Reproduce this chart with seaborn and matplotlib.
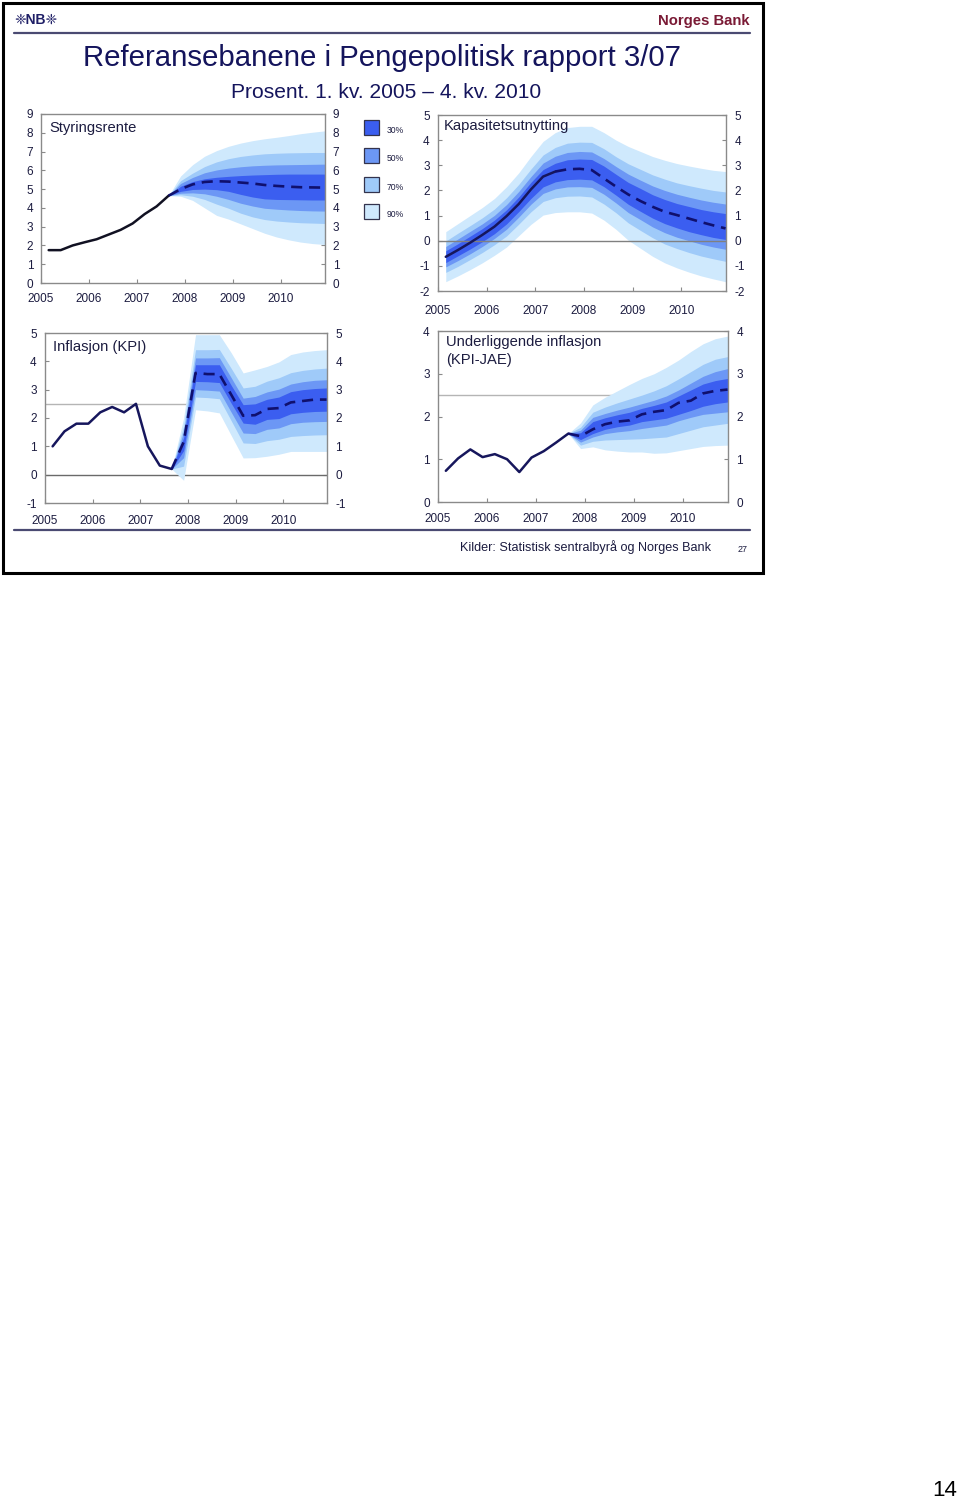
import numpy as np
import pandas as pd
import matplotlib
matplotlib.use("Agg")
import matplotlib.pyplot as plt
import seaborn as sns
from matplotlib.patches import Rectangle

sns.set_theme(style="white")
plt.rcParams['font.family'] = ['Liberation Sans', 'DejaVu Sans']
plt.rcParams['axes.unicode_minus'] = False

# ---------------- data ----------------
quarters = [str(p) for p in pd.period_range("2005Q1", "2010Q4", freq="Q")]
year_ticks = [2005, 2006, 2007, 2008, 2009, 2010]

# Styringsrente (policy rate)
rate_hist = [1.75, 1.75, 2.0, 2.17, 2.33, 2.58, 2.83, 3.17, 3.67, 4.08, 4.65]          # 2005Q1-2007Q3
rate_fc   = [4.65, 5.0, 5.25, 5.38, 5.42, 5.4, 5.35, 5.3, 5.22, 5.17, 5.13, 5.1, 5.09, 5.08]  # 2007Q3-2010Q4
rate_hi90 = [4.65, 5.7, 6.3, 6.75, 7.05, 7.28, 7.45, 7.58, 7.68, 7.76, 7.85, 7.95, 8.03, 8.1]
rate_hi70 = [4.65, 5.45, 5.85, 6.2, 6.45, 6.62, 6.74, 6.82, 6.88, 6.91, 6.93, 6.94, 6.95, 6.95]
rate_hi50 = [4.65, 5.3, 5.62, 5.87, 6.02, 6.12, 6.19, 6.24, 6.27, 6.29, 6.3, 6.31, 6.32, 6.33]
rate_hi30 = [4.65, 5.15, 5.4, 5.55, 5.63, 5.68, 5.72, 5.75, 5.77, 5.79, 5.8, 5.8, 5.8, 5.8]
rate_lo30 = [4.65, 4.88, 4.98, 5.0, 4.97, 4.88, 4.72, 4.58, 4.48, 4.45, 4.44, 4.43, 4.42, 4.42]
rate_lo50 = [4.65, 4.78, 4.8, 4.75, 4.62, 4.45, 4.25, 4.1, 3.98, 3.93, 3.89, 3.86, 3.84, 3.83]
rate_lo70 = [4.65, 4.7, 4.62, 4.45, 4.2, 3.98, 3.72, 3.52, 3.38, 3.3, 3.25, 3.21, 3.19, 3.17]
rate_lo90 = [4.65, 4.62, 4.4, 4.0, 3.6, 3.4, 3.15, 2.9, 2.65, 2.45, 2.3, 2.18, 2.1, 2.05]

# Kapasitetsutnytting (output gap), bands over all quarters
gap_mid  = [-0.64, -0.37, -0.08, 0.23, 0.56, 0.98, 1.46, 2.04, 2.55, 2.75, 2.84, 2.86,
            2.81, 2.48, 2.15, 1.84, 1.58, 1.35, 1.15, 1.02, 0.88, 0.74, 0.61, 0.49]
gap_hi90 = [0.36, 0.68, 1.00, 1.32, 1.68, 2.15, 2.70, 3.35, 3.95, 4.30, 4.50, 4.55,
            4.55, 4.30, 4.00, 3.75, 3.55, 3.35, 3.20, 3.07, 2.97, 2.88, 2.80, 2.75]
gap_lo90 = [-1.63, -1.40, -1.15, -0.88, -0.58, -0.25, 0.20, 0.65, 1.02, 1.12, 1.15, 1.15,
            1.10, 0.82, 0.45, 0.02, -0.30, -0.62, -0.88, -1.08, -1.25, -1.40, -1.52, -1.63]
gap_hi70 = [-0.01, 0.30, 0.60, 0.91, 1.26, 1.71, 2.24, 2.85, 3.41, 3.71, 3.88, 3.92,
            3.91, 3.66, 3.34, 3.06, 2.84, 2.62, 2.45, 2.30, 2.19, 2.09, 2.00, 1.94]
gap_lo70 = [-1.26, -1.02, -0.75, -0.47, -0.16, 0.19, 0.66, 1.15, 1.56, 1.71, 1.77, 1.78,
            1.74, 1.46, 1.11, 0.71, 0.41, 0.12, -0.13, -0.31, -0.47, -0.61, -0.72, -0.82]
gap_hi50 = [-0.23, 0.07, 0.37, 0.67, 1.01, 1.44, 1.96, 2.55, 3.09, 3.36, 3.51, 3.55,
            3.53, 3.27, 2.95, 2.65, 2.41, 2.18, 2.00, 1.85, 1.73, 1.62, 1.53, 1.46]
gap_lo50 = [-1.04, -0.79, -0.52, -0.23, 0.09, 0.46, 0.94, 1.45, 1.88, 2.06, 2.14, 2.15,
            2.12, 1.85, 1.50, 1.12, 0.84, 0.55, 0.32, 0.14, 0.00, -0.14, -0.25, -0.34]
gap_hi30 = [-0.40, -0.12, 0.18, 0.48, 0.82, 1.23, 1.74, 2.32, 2.83, 3.08, 3.22, 3.25,
            3.23, 2.97, 2.64, 2.32, 2.08, 1.83, 1.64, 1.48, 1.36, 1.24, 1.15, 1.08]
gap_lo30 = [-0.87, -0.60, -0.33, -0.04, 0.28, 0.67, 1.16, 1.68, 2.14, 2.34, 2.43, 2.45,
            2.42, 2.15, 1.81, 1.45, 1.17, 0.90, 0.68, 0.51, 0.36, 0.24, 0.13, 0.05]
gap_hist_n = 10   # solid through 2007Q2

# Inflasjon (KPI)
kpi_hist = [1.0, 1.53, 1.8, 1.8, 2.2, 2.39, 2.2, 2.5, 1.0, 0.32, 0.2]
kpi_fc   = [0.2, 1.15, 3.59, 3.55, 3.55, 2.82, 2.08, 2.1, 2.32, 2.35, 2.55, 2.6, 2.65, 2.65]
kpi_hi90 = [0.2, 2.0, 4.94, 4.94, 4.94, 4.3, 3.59, 3.7, 3.82, 3.98, 4.24, 4.33, 4.38, 4.41]
kpi_hi70 = [0.2, 1.7, 4.41, 4.41, 4.42, 3.75, 3.06, 3.12, 3.3, 3.42, 3.6, 3.68, 3.73, 3.76]
kpi_hi50 = [0.2, 1.5, 4.12, 4.12, 4.13, 3.42, 2.7, 2.76, 2.92, 3.02, 3.2, 3.28, 3.33, 3.35]
kpi_hi30 = [0.2, 1.3, 3.88, 3.88, 3.88, 3.15, 2.47, 2.5, 2.66, 2.74, 2.93, 3.0, 3.04, 3.06]
kpi_lo30 = [0.2, 0.85, 3.29, 3.28, 3.25, 2.52, 1.82, 1.78, 1.95, 1.98, 2.15, 2.2, 2.23, 2.24]
kpi_lo50 = [0.2, 0.6, 3.0, 2.98, 2.95, 2.2, 1.47, 1.45, 1.6, 1.65, 1.8, 1.85, 1.87, 1.88]
kpi_lo70 = [0.2, 0.3, 2.74, 2.72, 2.68, 1.9, 1.12, 1.1, 1.2, 1.25, 1.35, 1.38, 1.4, 1.41]
kpi_lo90 = [0.2, -0.2, 2.29, 2.25, 2.18, 1.38, 0.59, 0.6, 0.65, 0.72, 0.82, 0.82, 0.82, 0.82]

# Underliggende inflasjon (KPI-JAE)
jae_hist = [0.73, 1.02, 1.23, 1.05, 1.12, 1.0, 0.7, 1.04, 1.19, 1.39, 1.6]
jae_fc   = [1.6, 1.54, 1.7, 1.82, 1.88, 1.91, 2.05, 2.11, 2.15, 2.32, 2.37, 2.54, 2.6, 2.63]
jae_hi90 = [1.6, 1.85, 2.27, 2.45, 2.6, 2.75, 2.89, 3.0, 3.15, 3.32, 3.52, 3.7, 3.82, 3.88]
jae_hi70 = [1.6, 1.75, 2.1, 2.22, 2.32, 2.41, 2.5, 2.6, 2.72, 2.88, 3.05, 3.22, 3.34, 3.4]
jae_hi50 = [1.6, 1.68, 1.98, 2.07, 2.15, 2.22, 2.3, 2.38, 2.48, 2.62, 2.78, 2.94, 3.05, 3.12]
jae_hi30 = [1.6, 1.62, 1.88, 1.97, 2.04, 2.1, 2.19, 2.26, 2.34, 2.48, 2.62, 2.76, 2.84, 2.89]
jae_lo30 = [1.6, 1.46, 1.6, 1.7, 1.76, 1.8, 1.88, 1.92, 1.96, 2.05, 2.14, 2.24, 2.3, 2.34]
jae_lo50 = [1.6, 1.4, 1.52, 1.6, 1.64, 1.67, 1.72, 1.76, 1.8, 1.9, 1.98, 2.05, 2.08, 2.11]
jae_lo70 = [1.6, 1.33, 1.42, 1.45, 1.46, 1.47, 1.48, 1.5, 1.52, 1.6, 1.68, 1.76, 1.8, 1.84]
jae_lo90 = [1.6, 1.25, 1.29, 1.22, 1.19, 1.17, 1.17, 1.14, 1.15, 1.2, 1.25, 1.3, 1.32, 1.33]

band_labels = ["30%", "50%", "70%", "90%"]
band_colors = {"30%": "#3b5ef0", "50%": "#6c97f5", "70%": "#9fcaf9", "90%": "#cfe9fd"}

# ---------------- helpers ----------------
W, H = 960, 1501
fig = plt.figure(figsize=(W / 100, H / 100), dpi=100)
fig.patch.set_facecolor("white")

def qpos(q):
    y, k = int(q[:4]), int(q[-1])
    return y + (k - 1) / 4 + 0.16

xq = [qpos(q) for q in quarters]
NAVY = "#16165c"
TXT = "#1c1c40"

def make_ax(l, t, r, b, ylim, ylabpad, xlabpad):
    ax = fig.add_axes([l / W, 1 - b / H, (r - l) / W, (b - t) / H])
    ax.set_xlim(2005.0, 2010.92)
    ax.set_ylim(*ylim)
    ax.set_yticks(range(ylim[0], ylim[1] + 1))
    ax.set_xticks(year_ticks)
    ax.set_xticklabels([str(y) for y in year_ticks])
    for s in ax.spines.values():
        s.set_color("#8a8a8a")
        s.set_linewidth(1.0)
        s.set_visible(True)
    ax.tick_params(axis="y", which="both", direction="in", left=True, right=True,
                   labelleft=True, labelright=True, length=3, width=0.8,
                   color="#8a8a8a", labelcolor=TXT, labelsize=8.5, pad=ylabpad)
    ax.tick_params(axis="x", which="both", direction="in", bottom=True, top=False,
                   length=3, width=0.8, color="#8a8a8a", labelcolor=TXT,
                   labelsize=8.5, pad=xlabpad)
    ax.grid(False)
    ax.set_facecolor("white")
    return ax

def draw_fan(ax, xs, bands):
    for lab in ["90%", "70%", "50%", "30%"]:
        lo, hi = bands[lab]
        ax.fill_between(xs, lo, hi, color=band_colors[lab], linewidth=0, zorder=2)

def draw_lines(ax, xh, yh, xf, yf, hist_color=NAVY):
    dh = pd.DataFrame({"x": xh, "y": yh})
    sns.lineplot(data=dh, x="x", y="y", ax=ax, color=hist_color, linewidth=1.8,
                 zorder=5, legend=False)
    df = pd.DataFrame({"x": xf, "y": yf})
    sns.lineplot(data=df, x="x", y="y", ax=ax, color="#10106e", linewidth=1.9,
                 zorder=5, legend=False)
    ax.lines[-1].set_dashes((4.2, 2.6))
    ax.set_xlabel("")
    ax.set_ylabel("")

# ---------------- panel 1: Styringsrente ----------------
ax1 = make_ax(41, 114, 325, 283, (0, 9), 5.5, 7.5)
xf1 = xq[10:]
draw_fan(ax1, xf1, {"90%": (rate_lo90, rate_hi90), "70%": (rate_lo70, rate_hi70),
                    "50%": (rate_lo50, rate_hi50), "30%": (rate_lo30, rate_hi30)})
draw_lines(ax1, xq[:11], rate_hist, xf1, rate_fc, hist_color="#111122")

# ---------------- panel 2: Kapasitetsutnytting ----------------
ax2 = make_ax(438, 115, 726, 291, (-2, 5), 6, 10)
draw_fan(ax2, xq, {"90%": (gap_lo90, gap_hi90), "70%": (gap_lo70, gap_hi70),
                   "50%": (gap_lo50, gap_hi50), "30%": (gap_lo30, gap_hi30)})
ax2.axhline(0, color="#808080", linewidth=1.0, zorder=4)
draw_lines(ax2, xq[:gap_hist_n], gap_mid[:gap_hist_n], xq[gap_hist_n - 1:],
           gap_mid[gap_hist_n - 1:])

# ---------------- panel 3: Inflasjon (KPI) ----------------
ax3 = make_ax(45, 333, 327, 503, (-1, 5), 6, 8.5)
ax3.axhline(2.5, color="#b5b5b5", linewidth=1.0, zorder=1)
ax3.axhline(0, color="#6a6a6a", linewidth=1.0, zorder=1)
xf3 = xq[10:]
draw_fan(ax3, xf3, {"90%": (kpi_lo90, kpi_hi90), "70%": (kpi_lo70, kpi_hi70),
                    "50%": (kpi_lo50, kpi_hi50), "30%": (kpi_lo30, kpi_hi30)})
draw_lines(ax3, xq[:11], kpi_hist, xf3, kpi_fc)

# ---------------- panel 4: Underliggende inflasjon ----------------
ax4 = make_ax(438, 331, 728, 502, (0, 4), 6, 8)
ax4.axhline(2.5, color="#b5b5b5", linewidth=1.0, zorder=1)
xf4 = xq[10:]
draw_fan(ax4, xf4, {"90%": (jae_lo90, jae_hi90), "70%": (jae_lo70, jae_hi70),
                    "50%": (jae_lo50, jae_hi50), "30%": (jae_lo30, jae_hi30)})
draw_lines(ax4, xq[:11], jae_hist, xf4, jae_fc)

# ---------------- overlay (pixel coordinates) ----------------
ov = fig.add_axes([0, 0, 1, 1], zorder=10)
ov.set_xlim(0, W)
ov.set_ylim(H, 0)
ov.axis("off")

ov.add_patch(Rectangle((2.5, 2.5), 760.5, 570.5, fill=False, edgecolor="black", linewidth=2.2))
ov.plot([14, 750], [33, 33], color="#4a4a72", linewidth=1.6)
ov.plot([14, 750], [530, 530], color="#4a4a72", linewidth=1.6)

ov.text(14, 20, "❈NB❈", fontsize=10, fontweight="bold", color="#1e1e66",
        ha="left", va="center", family=["Liberation Sans", "DejaVu Sans"])
ov.text(750, 21, "Norges Bank", fontsize=10.7, fontweight="bold", color="#7a1a35",
        ha="right", va="center")
ov.text(382, 58, "Referansebanene i Pengepolitisk rapport 3/07", fontsize=21.2,
        color="#14145c", ha="center", va="center")
ov.text(386, 92, "Prosent. 1. kv. 2005 – 4. kv. 2010", fontsize=15.1,
        color="#14145c", ha="center", va="center")

# legend
for i, lab in enumerate(band_labels):
    top = [120, 148, 177, 204][i]
    ov.add_patch(Rectangle((364, top), 15, 15, facecolor=band_colors[lab],
                           edgecolor="#33334d", linewidth=0.9))
    ov.text(387, top + 10.5, lab, fontsize=6.2, color=TXT, ha="left", va="center")

# panel titles
ov.text(49, 128, "Styringsrente", fontsize=10.6, color=TXT, ha="left", va="center")
ov.text(444, 126, "Kapasitetsutnytting", fontsize=10.6, color=TXT, ha="left", va="center")
ov.text(53, 347, "Inflasjon (KPI)", fontsize=10.6, color=TXT, ha="left", va="center")
ov.text(446, 342, "Underliggende inflasjon", fontsize=10.6, color=TXT, ha="left", va="center")
ov.text(446, 360, "(KPI-JAE)", fontsize=10.6, color=TXT, ha="left", va="center")

ov.text(460, 547, "Kilder: Statistisk sentralbyrå og Norges Bank", fontsize=9.1,
        color=TXT, ha="left", va="center")
ov.text(743, 549, "27", fontsize=6.5, color=TXT, ha="center", va="center")
ov.text(957, 1490, "14", fontsize=16, color="black", ha="right", va="center")

fig.savefig("out.png", dpi=100, facecolor="white")
